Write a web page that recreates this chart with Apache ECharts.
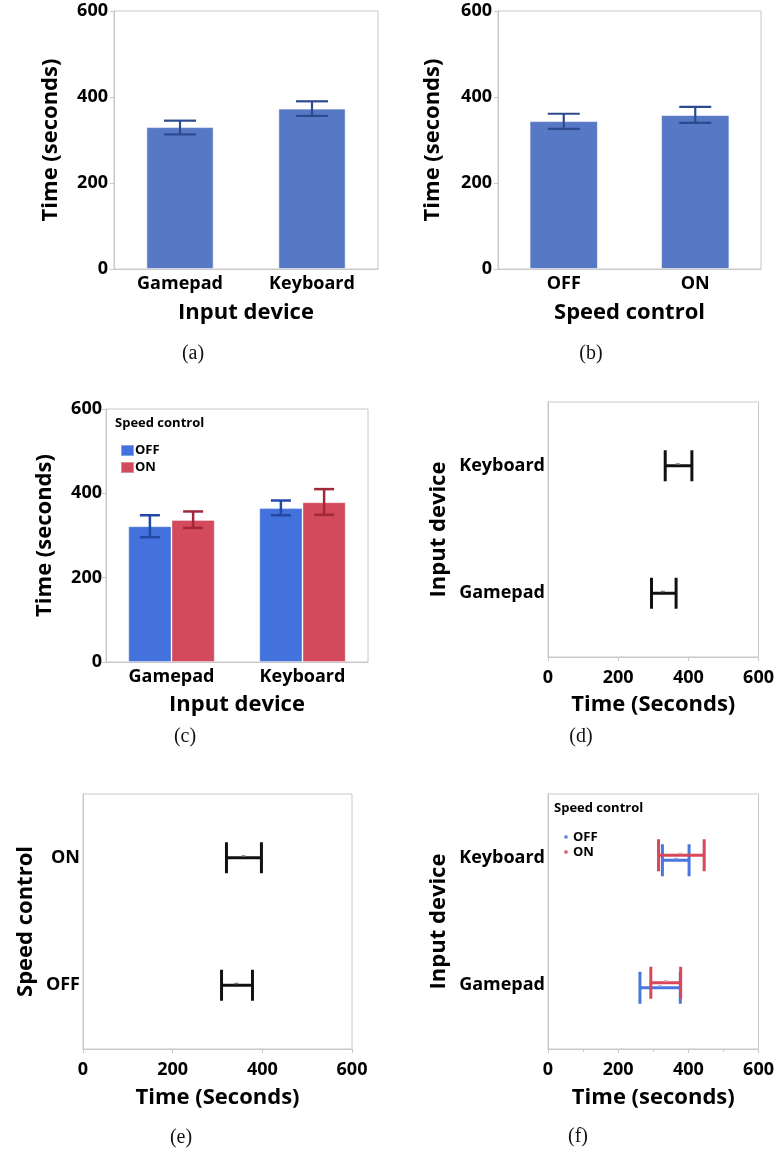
<!DOCTYPE html>
<html>
<head>
<meta charset="utf-8">
<script src="https://cdn.jsdelivr.net/npm/echarts@6/dist/echarts.min.js"></script>
<style>
html,body{margin:0;padding:0;background:#fff;}
#chart{width:777px;height:1151px;}
</style>
</head>
<body>
<div id="chart"></div>
<script>
// ---------- data ----------
const deviceCats = ['Gamepad', 'Keyboard'];
const speedCats = ['OFF', 'ON'];
const timeTicks = [0, 200, 400, 600];

// (a) by input device
const aMean = [330, 373];
const aLow  = [313, 356];
const aHigh = [345, 390];
// (b) by speed control
const bMean = [344, 358];
const bLow  = [326, 340];
const bHigh = [361, 377];
// (c) device x speed
const cOffMean = [322, 365];
const cOffLow  = [296, 348];
const cOffHigh = [348, 383];
const cOnMean  = [337, 379];
const cOnLow   = [318, 349];
const cOnHigh  = [357, 410];
// (d) intervals by input device
const dMean = [327, 370];
const dLow  = [295, 334];
const dHigh = [365, 410];
// (e) intervals by speed control
const eMean = [342, 358];
const eLow  = [309, 320];
const eHigh = [378, 398];
// (f) intervals device x speed
const fOffMean = [319, 364];
const fOffLow  = [262, 326];
const fOffHigh = [377, 402];
const fOnMean  = [336, 377];
const fOnLow   = [293, 315];
const fOnHigh  = [378, 445];

// ---------- styling ----------
const FONT = '"Open Sans", "Noto Sans", sans-serif';
const SERIF = '"Liberation Serif", "DejaVu Serif", serif';
const FRAME = '#c8c8c8';
const TXT = '#000';
const TICK_FS = 18, NAME_FS = 22;

const tMin = timeTicks[0], tMax = timeTicks[timeTicks.length - 1], tInt = timeTicks[1] - timeTicks[0];

function lbl(margin) {
  return {fontFamily: FONT, fontWeight: 'bold', fontSize: TICK_FS, color: TXT, margin: margin};
}
function valueAxis(grid, name, gap, extra) {
  return Object.assign({
    type: 'value', gridIndex: grid, min: tMin, max: tMax, interval: tInt,
    name: name, nameLocation: 'middle', nameGap: gap,
    nameTextStyle: {fontFamily: FONT, fontWeight: 'bold', fontSize: NAME_FS, color: TXT},
    axisLine: {show: true, lineStyle: {color: FRAME, width: 1}},
    axisTick: {show: true, length: 4, lineStyle: {color: FRAME}},
    splitLine: {show: false},
    axisLabel: lbl(6)
  }, extra || {});
}
function catAxis(grid, cats, name, gap, extra) {
  return Object.assign({
    type: 'category', gridIndex: grid, data: cats,
    name: name, nameLocation: 'middle', nameGap: gap,
    nameTextStyle: {fontFamily: FONT, fontWeight: 'bold', fontSize: NAME_FS, color: TXT},
    axisLine: {show: true, lineStyle: {color: FRAME, width: 1}},
    axisTick: {show: false},
    splitLine: {show: false},
    axisLabel: lbl(6)
  }, extra || {});
}

function rows3(lows, highs) { return lows.map((l, i) => [i, l, highs[i]]); }
function rows4(lows, means, highs) { return lows.map((l, i) => [i, l, means[i], highs[i]]); }

function vErr(color, capW, lw, frac) {
  return function (params, api) {
    const band = api.size([1, 0])[0];
    const lo = api.coord([api.value(0), api.value(1)]);
    const hi = api.coord([api.value(0), api.value(2)]);
    const x = lo[0] + band * frac;
    const st = {stroke: color, lineWidth: lw};
    return {type: 'group', children: [
      {type: 'line', shape: {x1: x, y1: lo[1], x2: x, y2: hi[1]}, style: st},
      {type: 'line', shape: {x1: x - capW / 2, y1: lo[1], x2: x + capW / 2, y2: lo[1]}, style: st},
      {type: 'line', shape: {x1: x - capW / 2, y1: hi[1], x2: x + capW / 2, y2: hi[1]}, style: st}
    ]};
  };
}
function hInt(color, capH, lw, dy, meanColor) {
  return function (params, api) {
    const lo = api.coord([api.value(1), api.value(0)]);
    const mn = api.coord([api.value(2), api.value(0)]);
    const hi = api.coord([api.value(3), api.value(0)]);
    const y = lo[1] + dy;
    const st = {stroke: color, lineWidth: lw};
    return {type: 'group', children: [
      {type: 'line', shape: {x1: lo[0], y1: y, x2: hi[0], y2: y}, style: st},
      {type: 'line', shape: {x1: lo[0], y1: y - capH / 2, x2: lo[0], y2: y + capH / 2}, style: st},
      {type: 'line', shape: {x1: hi[0], y1: y - capH / 2, x2: hi[0], y2: y + capH / 2}, style: st},
      {type: 'rect', shape: {x: mn[0] - 2, y: y - 2.5, width: 4, height: 1.5}, style: {fill: meanColor}}
    ]};
  };
}

const gridBase = {show: true, borderColor: FRAME, borderWidth: 1, containLabel: false};

const barA = '#5778C4', errA = '#2E4A8F';
const blueC = '#4472DC', redC = '#D24A5B', blueCErr = '#2448A6', redCErr = '#A1283A';
const blueF = '#4A76E0', redF = '#D8475A';

function caption(t, x, y) {
  return {type: 'text', x: x, y: y, style: {text: t, font: '20px ' + SERIF, fill: '#111', textAlign: 'center', textVerticalAlign: 'middle'}};
}

const option = {
  animation: false,
  backgroundColor: '#fff',
  textStyle: {fontFamily: FONT},
  grid: [
    Object.assign({left: 114, top: 11, width: 264, height: 258}, gridBase),   // a
    Object.assign({left: 498, top: 11, width: 263, height: 258}, gridBase),   // b
    Object.assign({left: 106, top: 409, width: 262, height: 253}, gridBase),  // c
    Object.assign({left: 548, top: 402, width: 217, height: 255}, gridBase),  // d
    Object.assign({left: 83, top: 794, width: 269, height: 255}, gridBase),   // e
    Object.assign({left: 548, top: 794, width: 217, height: 255}, gridBase)   // f
  ],
  xAxis: [
    catAxis(0, deviceCats, 'Input device', 33),
    catAxis(1, speedCats, 'Speed control', 33),
    catAxis(2, deviceCats, 'Input device', 32),
    valueAxis(3, 'Time (Seconds)', 37, {axisLabel: lbl(12)}),
    valueAxis(4, 'Time (Seconds)', 38, {axisLabel: lbl(12)}),
    valueAxis(5, 'Time (seconds)', 38, {
      axisLabel: lbl(12),
      minorTick: {show: true, splitNumber: 2, length: 3, lineStyle: {color: FRAME}}
    })
  ],
  yAxis: [
    valueAxis(0, 'Time (seconds)', 52),
    valueAxis(1, 'Time (seconds)', 54),
    valueAxis(2, 'Time (seconds)', 50, {axisLabel: lbl(4)}),
    catAxis(3, deviceCats, 'Input device', 98, {axisLabel: lbl(3)}),
    catAxis(4, speedCats, 'Speed control', 46, {axisLabel: lbl(3)}),
    catAxis(5, deviceCats, 'Input device', 98, {axisLabel: lbl(3)})
  ],
  legend: [
    {
      left: 115, top: 439, orient: 'vertical', itemWidth: 13, itemHeight: 11, itemGap: 4,
      selectedMode: false,
      textStyle: {fontFamily: FONT, fontWeight: 'bold', fontSize: 13, color: TXT, padding: [0, 0, 0, -4]},
      data: [
        {name: 'OFF', icon: 'rect', itemStyle: {color: blueC}},
        {name: 'ON', icon: 'rect', itemStyle: {color: redC}}
      ]
    },
    {
      left: 558, top: 825, orient: 'vertical', itemWidth: 4, itemHeight: 4, itemGap: 1,
      selectedMode: false,
      textStyle: {fontFamily: FONT, fontWeight: 'bold', fontSize: 13, color: TXT, lineHeight: 14},
      data: [
        {name: 'OFF', icon: 'circle', itemStyle: {color: blueF}},
        {name: 'ON', icon: 'circle', itemStyle: {color: redF}}
      ]
    }
  ],
  graphic: [
    {type: 'text', left: 115, top: 417, style: {text: 'Speed control', font: 'bold 13px ' + FONT, fill: TXT}},
    {type: 'text', left: 554, top: 802, style: {text: 'Speed control', font: 'bold 13px ' + FONT, fill: TXT}},
    caption('(a)', 193, 354),
    caption('(b)', 591, 354),
    caption('(c)', 185, 737),
    caption('(d)', 581, 737),
    caption('(e)', 181, 1138),
    caption('(f)', 578, 1137)
  ],
  series: [
    // (a)
    {type: 'bar', name: 'Input device', xAxisIndex: 0, yAxisIndex: 0, data: aMean, barWidth: '51%',
      itemStyle: {color: barA, borderColor: 'rgba(255,255,255,0.55)', borderWidth: 1}},
    {type: 'custom', name: 'a-err', xAxisIndex: 0, yAxisIndex: 0, data: rows3(aLow, aHigh),
      encode: {x: 0, y: [1, 2]}, renderItem: vErr(errA, 32, 2.2, 0), z: 5},
    // (b)
    {type: 'bar', name: 'Speed control', xAxisIndex: 1, yAxisIndex: 1, data: bMean, barWidth: '52%',
      itemStyle: {color: barA, borderColor: 'rgba(255,255,255,0.55)', borderWidth: 1}},
    {type: 'custom', name: 'b-err', xAxisIndex: 1, yAxisIndex: 1, data: rows3(bLow, bHigh),
      encode: {x: 0, y: [1, 2]}, renderItem: vErr(errA, 32, 2.2, 0), z: 5},
    // (c)
    {type: 'bar', name: 'OFF', xAxisIndex: 2, yAxisIndex: 2, data: cOffMean, barWidth: '33%', barGap: '0%',
      itemStyle: {color: blueC, borderColor: 'rgba(255,255,255,0.35)', borderWidth: 1}},
    {type: 'bar', name: 'ON', xAxisIndex: 2, yAxisIndex: 2, data: cOnMean, barWidth: '33%', barGap: '0%',
      itemStyle: {color: redC, borderColor: 'rgba(255,255,255,0.35)', borderWidth: 1}},
    {type: 'custom', name: 'OFF', xAxisIndex: 2, yAxisIndex: 2, data: rows3(cOffLow, cOffHigh),
      encode: {x: 0, y: [1, 2]}, renderItem: vErr(blueCErr, 20, 2.5, -0.165), z: 5},
    {type: 'custom', name: 'ON', xAxisIndex: 2, yAxisIndex: 2, data: rows3(cOnLow, cOnHigh),
      encode: {x: 0, y: [1, 2]}, renderItem: vErr(redCErr, 20, 2.5, 0.165), z: 5},
    // (d)
    {type: 'custom', name: 'd-int', xAxisIndex: 3, yAxisIndex: 3, data: rows4(dLow, dMean, dHigh),
      encode: {y: 0, x: [1, 2, 3]}, renderItem: hInt('#111', 31, 3, 0, '#777')},
    // (e)
    {type: 'custom', name: 'e-int', xAxisIndex: 4, yAxisIndex: 4, data: rows4(eLow, eMean, eHigh),
      encode: {y: 0, x: [1, 2, 3]}, renderItem: hInt('#111', 31, 3, 0, '#777')},
    // (f)
    {type: 'custom', name: 'OFF', xAxisIndex: 5, yAxisIndex: 5, data: rows4(fOffLow, fOffMean, fOffHigh),
      encode: {y: 0, x: [1, 2, 3]}, renderItem: hInt(blueF, 32, 3, 2.5, '#8fa8ee')},
    {type: 'custom', name: 'ON', xAxisIndex: 5, yAxisIndex: 5, data: rows4(fOnLow, fOnMean, fOnHigh),
      encode: {y: 0, x: [1, 2, 3]}, renderItem: hInt(redF, 32, 3, -2.5, '#e99aa4')}
  ]
};

const chart = echarts.init(document.getElementById('chart'), null, {renderer: 'canvas'});
chart.setOption(option);
</script>
</body>
</html>
